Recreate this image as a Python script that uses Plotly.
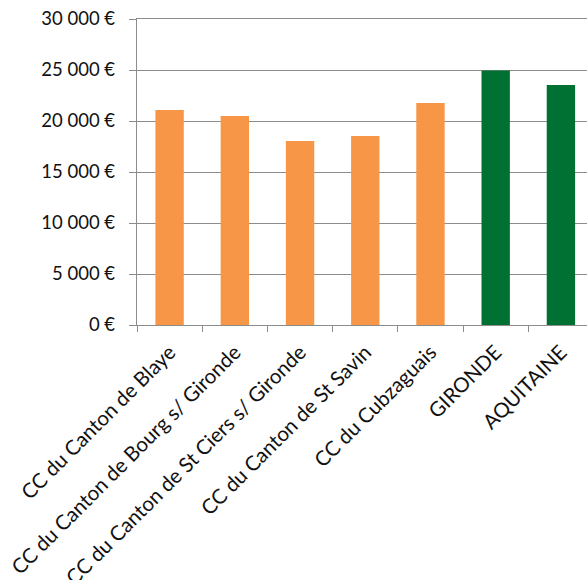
import plotly.graph_objects as go

categories = ["CC du Canton de Blaye", "CC du Canton de Bourg s/ Gironde",
              "CC du Canton de St Ciers s/ Gironde", "CC du Canton de St Savin",
              "CC du Cubzaguais", "GIRONDE", "AQUITAINE"]
values = [21070, 20480, 18030, 18520, 21760, 24950, 23520]
bar_colors = ["#F79646"] * 5 + ["#007033"] * 2
y_ticks = [0, 5000, 10000, 15000, 20000, 25000, 30000]
y_tick_labels = ["0 €", "5 000 €", "10 000 €", "15 000 €", "20 000 €", "25 000 €", "30 000 €"]

fig = go.Figure(go.Bar(x=categories, y=values, marker=dict(color=bar_colors, line=dict(width=0)),
                       width=0.435, hoverinfo="skip"))

font = dict(family="Lato, 'Open Sans', sans-serif", size=18.5, color="#111111")
fig.update_layout(
    width=587, height=580,
    margin=dict(l=137, r=0, t=19, b=255, autoexpand=False),
    paper_bgcolor="white", plot_bgcolor="white",
    showlegend=False, font=font, bargap=0.565,
)
fig.update_yaxes(range=[0, 30000], tickvals=y_ticks, ticktext=y_tick_labels,
                 showgrid=True, gridcolor="#8c8c8c", gridwidth=1.4,
                 showline=True, linecolor="#8c8c8c", linewidth=1.4,
                 ticks="outside", ticklen=7, tickcolor="#8c8c8c", tickwidth=1.4,
                 ticklabelstandoff=10, automargin=False, zeroline=False)
fig.update_xaxes(range=[-0.5, 6.40], tickangle=-45, tickson="boundaries",
                 showline=True, mirror=True, linecolor="#8c8c8c", linewidth=1.4,
                 ticks="outside", ticklen=6, tickcolor="#8c8c8c", tickwidth=1.4,
                 tickfont=dict(size=20.5), ticklabelstandoff=6,
                 showgrid=False, automargin=False)
fig.write_html("out.html", config={"displayModeBar": False},
               post_script="document.body.style.margin='0';document.body.style.overflow='hidden';")
